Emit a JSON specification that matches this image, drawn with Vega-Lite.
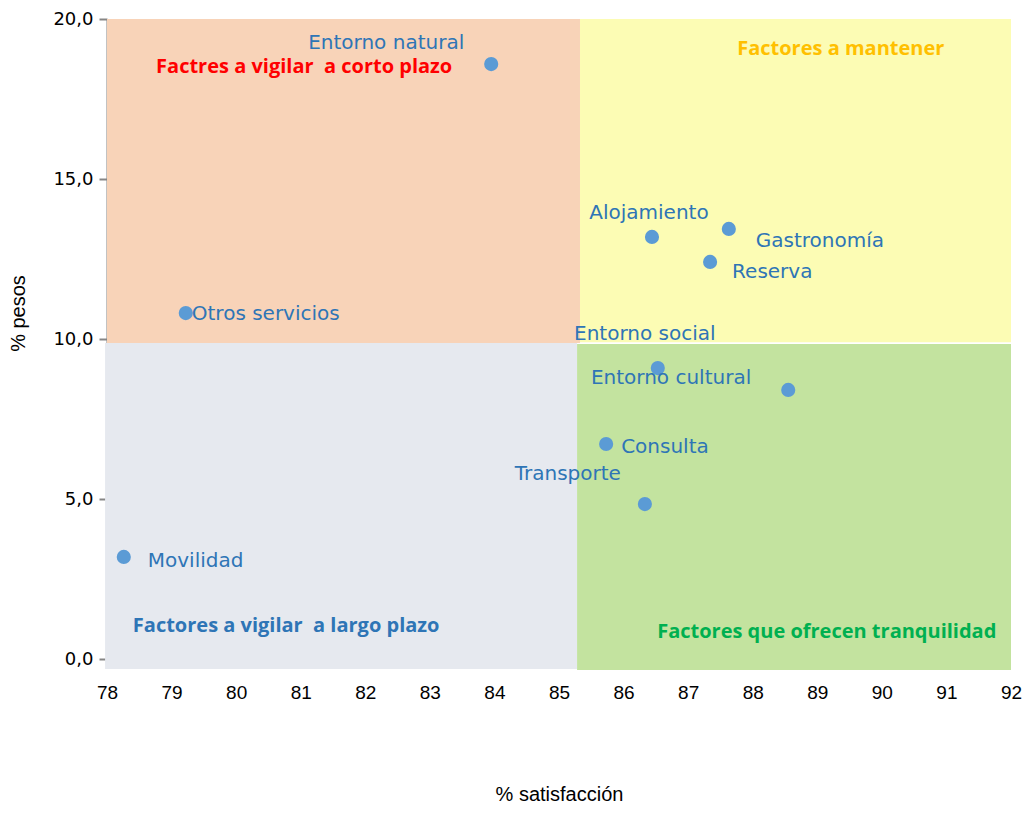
{
  "$schema": "https://vega.github.io/schema/vega-lite/v6.json",
  "autosize": "none",
  "width": 904,
  "height": 640,
  "padding": {"left": 107, "top": 19, "right": 15, "bottom": 162},
  "background": "white",
  "config": {"view": {"stroke": null}},
  "resolve": {"scale": {"color": "independent"}},
  "datasets": {
    "quadrants": [
      {"q": "corto", "x": 78, "x2": 85.325, "y": 9.875, "y2": 20},
      {"q": "mantener", "x": 85.325, "x2": 92, "y": 9.9, "y2": 20},
      {"q": "largo", "x": 77.97, "x2": 85.28, "y": -0.31, "y2": 9.875},
      {"q": "tranquilidad", "x": 85.28, "x2": 92, "y": -0.34, "y2": 9.84}
    ],
    "titles": [
      {"q": "corto", "label": "Factres a vigilar\u00a0 a corto plazo", "x": 78.76, "y": 18.5},
      {"q": "mantener", "label": "Factores a mantener", "x": 87.76, "y": 19.06},
      {"q": "largo", "label": "Factores a vigilar\u00a0 a largo plazo", "x": 78.4, "y": 1.03},
      {"q": "tranquilidad", "label": "Factores que ofrecen tranquilidad", "x": 86.52, "y": 0.84}
    ],
    "points": [
      {"name": "Entorno natural", "satisfaccion": 83.95, "peso": 18.59},
      {"name": "Alojamiento", "satisfaccion": 86.44, "peso": 13.19},
      {"name": "Gastronomía", "satisfaccion": 87.63, "peso": 13.44},
      {"name": "Reserva", "satisfaccion": 87.34, "peso": 12.41},
      {"name": "Otros servicios", "satisfaccion": 79.22, "peso": 10.81},
      {"name": "Entorno social", "satisfaccion": 86.53, "peso": 9.09},
      {"name": "Entorno cultural", "satisfaccion": 88.55, "peso": 8.41},
      {"name": "Consulta", "satisfaccion": 85.73, "peso": 6.72},
      {"name": "Transporte", "satisfaccion": 86.33, "peso": 4.84},
      {"name": "Movilidad", "satisfaccion": 78.26, "peso": 3.19}
    ]
  },
  "layer": [
    {
      "data": {"name": "quadrants"},
      "mark": {"type": "rect"},
      "encoding": {
        "x": {"field": "x", "type": "quantitative", "scale": {"domain": [78, 92], "nice": false, "zero": false},
          "axis": {"values": [78,79,80,81,82,83,84,85,86,87,88,89,90,91,92], "format": "d", "grid": false, "domain": false, "ticks": false, "labelPadding": 24, "labelFont": "Liberation Sans", "labelFontSize": 19, "labelColor": "#000000", "labelFlush": false, "labelOverlap": false,
            "title": "% satisfacción", "titleFont": "Liberation Sans", "titleFontSize": 20, "titleFontWeight": "normal", "titleColor": "#000000", "titlePadding": 82}},
        "x2": {"field": "x2"},
        "y": {"field": "y", "type": "quantitative", "scale": {"domain": [0, 20], "nice": false, "zero": false},
          "axis": {"values": [0,5,10,15,20], "grid": false, "domainColor": "#868686", "domainWidth": 2, "tickColor": "#868686", "tickWidth": 2, "tickSize": 8, "labelPadding": 6,
            "labelExpr": "replace(format(datum.value, '.1f'), '.', ',')", "labelFont": "DejaVu Sans", "labelFontSize": 18, "labelColor": "#000000", "labelFlush": false,
            "title": "% pesos", "titleFont": "Liberation Sans", "titleFontSize": 20, "titleFontWeight": "normal", "titleColor": "#000000", "titlePadding": 24, "titleY": 294}},
        "y2": {"field": "y2"},
        "color": {"field": "q", "type": "nominal", "legend": null,
          "scale": {"domain": ["corto", "mantener", "largo", "tranquilidad"], "range": ["#F8D3B8", "#FCFCB4", "#E6E9EF", "#C3E39F"]}}
      }
    },
    {
      "data": {"name": "titles"},
      "mark": {"type": "text", "align": "left", "baseline": "middle", "font": "Open Sans", "fontSize": 20, "fontWeight": "bold"},
      "encoding": {
        "x": {"field": "x", "type": "quantitative"},
        "y": {"field": "y", "type": "quantitative"},
        "text": {"field": "label"},
        "color": {"field": "q", "type": "nominal", "legend": null,
          "scale": {"domain": ["corto", "mantener", "largo", "tranquilidad"], "range": ["#FF0000", "#FFC000", "#2E75B6", "#00B050"]}}
      }
    },
    {
      "data": {"name": "points"},
      "mark": {"type": "circle", "size": 200, "opacity": 1, "color": "#5B9BD5"},
      "encoding": {
        "x": {"field": "satisfaccion", "type": "quantitative"},
        "y": {"field": "peso", "type": "quantitative"}
      }
    },
    {
      "data": {"name": "points"},
      "transform": [{"filter": "datum.name === 'Entorno natural'"}],
      "mark": {"type": "text", "align": "right", "baseline": "middle", "dx": -27, "dy": -21, "font": "DejaVu Sans", "fontSize": 20, "color": "#2E75B6"},
      "encoding": {"x": {"field": "satisfaccion", "type": "quantitative"}, "y": {"field": "peso", "type": "quantitative"}, "text": {"field": "name"}}
    },
    {
      "data": {"name": "points"},
      "transform": [{"filter": "datum.name === 'Alojamiento'"}],
      "mark": {"type": "text", "align": "center", "baseline": "middle", "dx": -3, "dy": -24, "font": "DejaVu Sans", "fontSize": 20, "color": "#2E75B6"},
      "encoding": {"x": {"field": "satisfaccion", "type": "quantitative"}, "y": {"field": "peso", "type": "quantitative"}, "text": {"field": "name"}}
    },
    {
      "data": {"name": "points"},
      "transform": [{"filter": "datum.name === 'Gastronomía'"}],
      "mark": {"type": "text", "align": "left", "baseline": "middle", "dx": 27, "dy": 12, "font": "DejaVu Sans", "fontSize": 20, "color": "#2E75B6"},
      "encoding": {"x": {"field": "satisfaccion", "type": "quantitative"}, "y": {"field": "peso", "type": "quantitative"}, "text": {"field": "name"}}
    },
    {
      "data": {"name": "points"},
      "transform": [{"filter": "datum.name === 'Reserva'"}],
      "mark": {"type": "text", "align": "left", "baseline": "middle", "dx": 22, "dy": 10, "font": "DejaVu Sans", "fontSize": 20, "color": "#2E75B6"},
      "encoding": {"x": {"field": "satisfaccion", "type": "quantitative"}, "y": {"field": "peso", "type": "quantitative"}, "text": {"field": "name"}}
    },
    {
      "data": {"name": "points"},
      "transform": [{"filter": "datum.name === 'Otros servicios'"}],
      "mark": {"type": "text", "align": "left", "baseline": "middle", "dx": 6, "dy": 1, "font": "DejaVu Sans", "fontSize": 20, "color": "#2E75B6"},
      "encoding": {"x": {"field": "satisfaccion", "type": "quantitative"}, "y": {"field": "peso", "type": "quantitative"}, "text": {"field": "name"}}
    },
    {
      "data": {"name": "points"},
      "transform": [{"filter": "datum.name === 'Entorno social'"}],
      "mark": {"type": "text", "align": "center", "baseline": "middle", "dx": -13, "dy": -34, "font": "DejaVu Sans", "fontSize": 20, "color": "#2E75B6"},
      "encoding": {"x": {"field": "satisfaccion", "type": "quantitative"}, "y": {"field": "peso", "type": "quantitative"}, "text": {"field": "name"}}
    },
    {
      "data": {"name": "points"},
      "transform": [{"filter": "datum.name === 'Entorno cultural'"}],
      "mark": {"type": "text", "align": "right", "baseline": "middle", "dx": -37, "dy": -12, "font": "DejaVu Sans", "fontSize": 20, "color": "#2E75B6"},
      "encoding": {"x": {"field": "satisfaccion", "type": "quantitative"}, "y": {"field": "peso", "type": "quantitative"}, "text": {"field": "name"}}
    },
    {
      "data": {"name": "points"},
      "transform": [{"filter": "datum.name === 'Consulta'"}],
      "mark": {"type": "text", "align": "left", "baseline": "middle", "dx": 15, "dy": 3, "font": "DejaVu Sans", "fontSize": 20, "color": "#2E75B6"},
      "encoding": {"x": {"field": "satisfaccion", "type": "quantitative"}, "y": {"field": "peso", "type": "quantitative"}, "text": {"field": "name"}}
    },
    {
      "data": {"name": "points"},
      "transform": [{"filter": "datum.name === 'Transporte'"}],
      "mark": {"type": "text", "align": "right", "baseline": "middle", "dx": -24, "dy": -30, "font": "DejaVu Sans", "fontSize": 20, "color": "#2E75B6"},
      "encoding": {"x": {"field": "satisfaccion", "type": "quantitative"}, "y": {"field": "peso", "type": "quantitative"}, "text": {"field": "name"}}
    },
    {
      "data": {"name": "points"},
      "transform": [{"filter": "datum.name === 'Movilidad'"}],
      "mark": {"type": "text", "align": "left", "baseline": "middle", "dx": 24, "dy": 4, "font": "DejaVu Sans", "fontSize": 20, "color": "#2E75B6"},
      "encoding": {"x": {"field": "satisfaccion", "type": "quantitative"}, "y": {"field": "peso", "type": "quantitative"}, "text": {"field": "name"}}
    }
  ]
}
